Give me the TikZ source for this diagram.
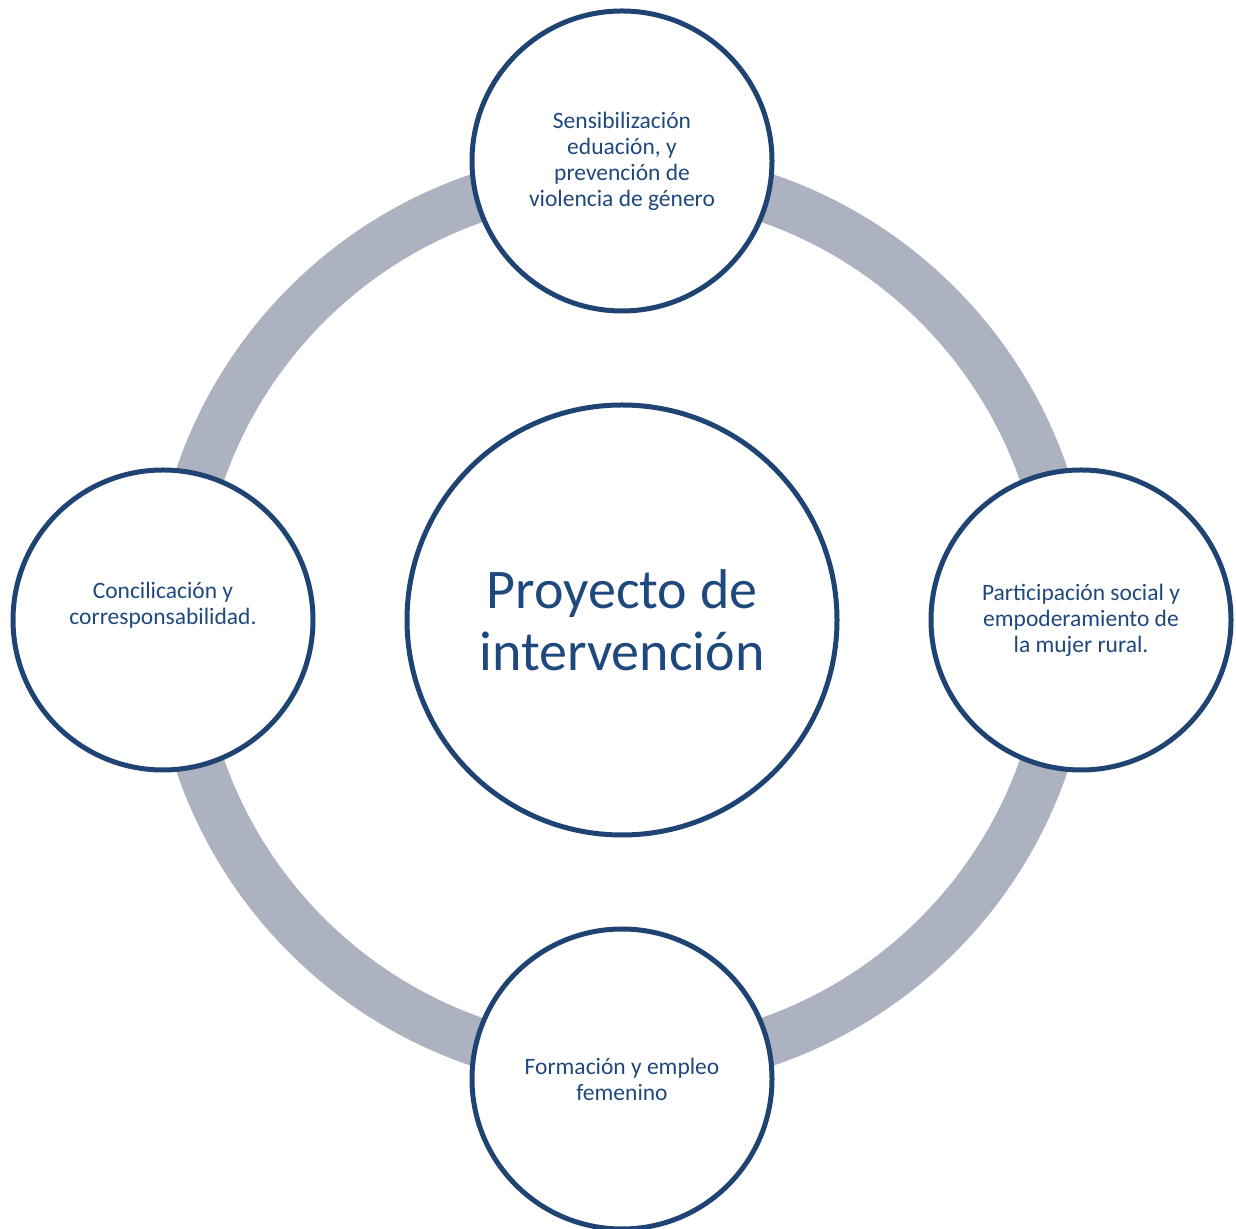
\documentclass[tikz,border=0pt]{standalone}
\usepackage{fontspec}
\setmainfont{Carlito}
\usepackage{tikz}
\definecolor{azul}{RGB}{31,68,116}
\definecolor{azultexto}{RGB}{31,73,125}
\definecolor{anillo}{RGB}{173,178,192}
\tikzset{
	eje/.style={circle, draw=azul, line width=5pt, fill=white, minimum size=300pt, inner sep=0pt, align=center, text=azultexto, font=\fontsize{23.5}{26}\selectfont},
	centro/.style={eje, minimum size=430pt, font=\fontsize{56}{62}\selectfont},
	anillo/.style={draw=anillo, line width=49pt}
}

\begin{document}
\begin{tikzpicture}[x=1pt,y=1pt]
			\useasboundingbox (0,0) rectangle (1236,1228);
			\coordinate (O) at (622,608);
			\draw[anillo] (O) circle (446);
			\node[centro] (proyecto) at (O) {Proyecto de\\intervención};
			\node[eje] (sensibilizacion) at (622,1067) {Sensibilización\\eduación, y\\prevención de\\violencia de género};
			\node[eje] (participacion) at (1081,608) {Participación social y\\empoderamiento de\\la mujer rural.};
			\node[eje] (formacion) at (622,149) {Formación y empleo\\femenino};
			\node[eje] (conciliacion) at (163,608) {Concilicación y\\corresponsabilidad.\\[8pt] \mbox{}};
		\end{tikzpicture}
\end{document}
